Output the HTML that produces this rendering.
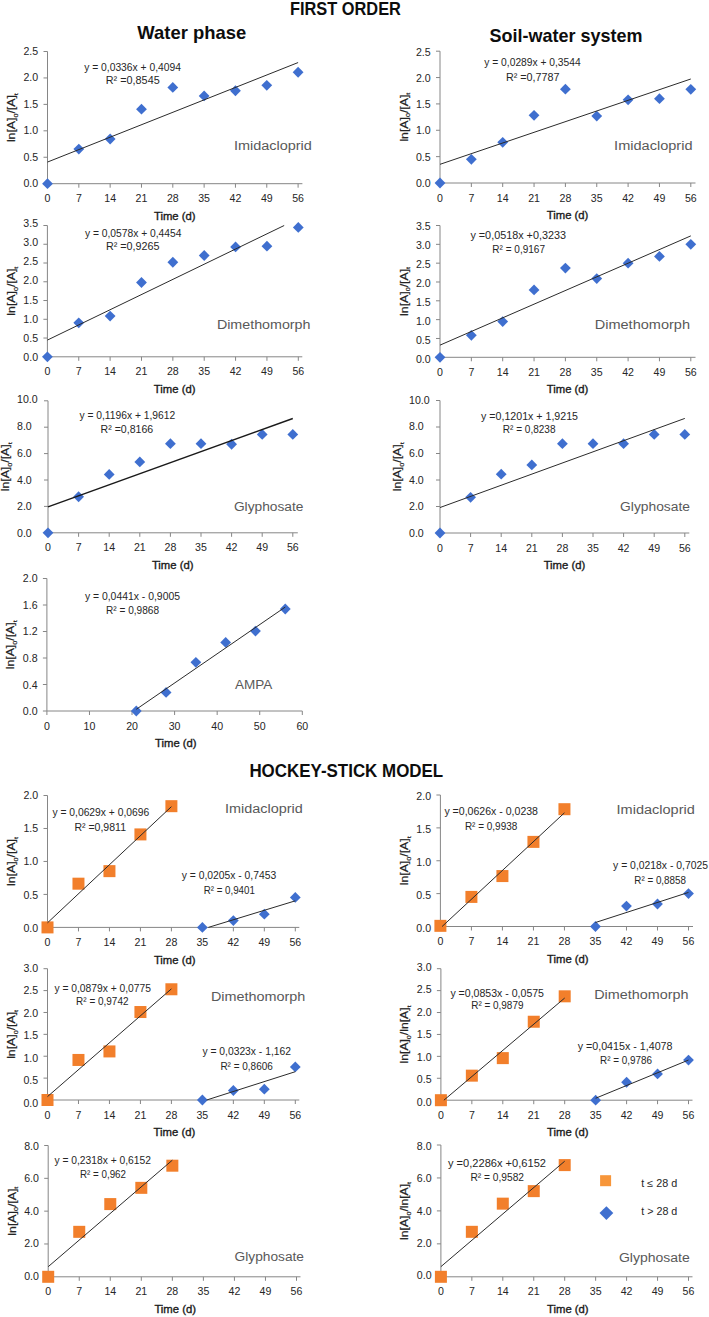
<!DOCTYPE html>
<html><head><meta charset="utf-8"><style>
html,body{margin:0;padding:0;background:#fff;}
svg{display:block;font-family:"Liberation Sans", sans-serif;}
</style></head><body>
<svg width="709" height="1317" viewBox="0 0 709 1317">
<rect width="709" height="1317" fill="#fff"/>
<path d="M47.50 51.50V183.70H302.40" fill="none" stroke="#868686" stroke-width="1"/>
<path d="M43.50 183.70H47.50 M43.50 157.26H47.50 M43.50 130.82H47.50 M43.50 104.38H47.50 M43.50 77.94H47.50 M43.50 51.50H47.50 M47.50 183.70V187.70 M78.83 183.70V187.70 M110.15 183.70V187.70 M141.48 183.70V187.70 M172.80 183.70V187.70 M204.13 183.70V187.70 M235.45 183.70V187.70 M266.78 183.70V187.70 M298.10 183.70V187.70" fill="none" stroke="#868686" stroke-width="1"/>
<text x="38.20" y="187.40" font-size="10.6" text-anchor="end" font-weight="normal" fill="#262626">0.0</text>
<text x="38.20" y="160.86" font-size="10.6" text-anchor="end" font-weight="normal" fill="#262626">0.5</text>
<text x="38.20" y="134.32" font-size="10.6" text-anchor="end" font-weight="normal" fill="#262626">1.0</text>
<text x="38.20" y="107.78" font-size="10.6" text-anchor="end" font-weight="normal" fill="#262626">1.5</text>
<text x="38.20" y="81.24" font-size="10.6" text-anchor="end" font-weight="normal" fill="#262626">2.0</text>
<text x="38.20" y="54.70" font-size="10.6" text-anchor="end" font-weight="normal" fill="#262626">2.5</text>
<text x="47.50" y="202.30" font-size="10.6" text-anchor="middle" font-weight="normal" fill="#262626">0</text>
<text x="78.83" y="202.30" font-size="10.6" text-anchor="middle" font-weight="normal" fill="#262626">7</text>
<text x="110.15" y="202.30" font-size="10.6" text-anchor="middle" font-weight="normal" fill="#262626">14</text>
<text x="141.48" y="202.30" font-size="10.6" text-anchor="middle" font-weight="normal" fill="#262626">21</text>
<text x="172.80" y="202.30" font-size="10.6" text-anchor="middle" font-weight="normal" fill="#262626">28</text>
<text x="204.13" y="202.30" font-size="10.6" text-anchor="middle" font-weight="normal" fill="#262626">35</text>
<text x="235.45" y="202.30" font-size="10.6" text-anchor="middle" font-weight="normal" fill="#262626">42</text>
<text x="266.78" y="202.30" font-size="10.6" text-anchor="middle" font-weight="normal" fill="#262626">49</text>
<text x="298.10" y="202.30" font-size="10.6" text-anchor="middle" font-weight="normal" fill="#262626">56</text>
<text x="153.95" y="219.80" font-size="11" text-anchor="start" font-weight="normal" fill="#1a1a1a" textLength="41.6" lengthAdjust="spacingAndGlyphs" stroke="#1a1a1a" stroke-width="0.35">Time (d)</text>
<text transform="translate(15.00 117.60) rotate(-90)" x="0" y="0" text-anchor="middle" font-size="10.5" fill="#222" stroke="#222" stroke-width="0.2" textLength="49" lengthAdjust="spacingAndGlyphs">ln[A]<tspan font-size="6.2" dy="2.6">0</tspan><tspan dy="-2.6">/[A]</tspan><tspan font-size="6.2" dy="2.6">t</tspan></text>
<text x="233.90" y="149.90" font-size="13.7" text-anchor="start" font-weight="normal" fill="#595959" textLength="78.0" lengthAdjust="spacingAndGlyphs">Imidacloprid</text>
<path d="M47.50 178.30L52.90 183.70L47.50 189.10L42.10 183.70Z" fill="#3F6FCF"/>
<path d="M78.83 143.72L84.23 149.12L78.83 154.52L73.42 149.12Z" fill="#3F6FCF"/>
<path d="M110.15 133.62L115.55 139.02L110.15 144.42L104.75 139.02Z" fill="#3F6FCF"/>
<path d="M141.48 103.74L146.88 109.14L141.48 114.54L136.08 109.14Z" fill="#3F6FCF"/>
<path d="M172.80 82.06L178.20 87.46L172.80 92.86L167.40 87.46Z" fill="#3F6FCF"/>
<path d="M204.13 90.52L209.53 95.92L204.13 101.32L198.73 95.92Z" fill="#3F6FCF"/>
<path d="M235.45 85.34L240.85 90.74L235.45 96.14L230.05 90.74Z" fill="#3F6FCF"/>
<path d="M266.78 79.94L272.18 85.34L266.78 90.74L261.38 85.34Z" fill="#3F6FCF"/>
<path d="M298.10 66.83L303.50 72.23L298.10 77.63L292.70 72.23Z" fill="#3F6FCF"/>
<line x1="47.50" y1="162.05" x2="298.10" y2="62.55" stroke="#2b2b2b" stroke-width="1.0"/>
<text x="84.20" y="70.60" font-size="10.3" text-anchor="start" font-weight="normal" fill="#262626" textLength="96.8" lengthAdjust="spacingAndGlyphs">y = 0,0336x + 0,4094</text>
<text x="105.80" y="84.30" font-size="10.3" text-anchor="start" font-weight="normal" fill="#262626" textLength="53.9" lengthAdjust="spacingAndGlyphs">R² =0,8545</text>
<path d="M47.40 225.50V356.80H302.30" fill="none" stroke="#868686" stroke-width="1"/>
<path d="M43.40 356.80H47.40 M43.40 338.04H47.40 M43.40 319.29H47.40 M43.40 300.53H47.40 M43.40 281.77H47.40 M43.40 263.01H47.40 M43.40 244.26H47.40 M43.40 225.50H47.40 M47.40 356.80V360.80 M78.76 356.80V360.80 M110.12 356.80V360.80 M141.49 356.80V360.80 M172.85 356.80V360.80 M204.21 356.80V360.80 M235.57 356.80V360.80 M266.94 356.80V360.80 M298.30 356.80V360.80" fill="none" stroke="#868686" stroke-width="1"/>
<text x="38.10" y="361.40" font-size="10.6" text-anchor="end" font-weight="normal" fill="#262626">0.0</text>
<text x="38.10" y="342.16" font-size="10.6" text-anchor="end" font-weight="normal" fill="#262626">0.5</text>
<text x="38.10" y="322.91" font-size="10.6" text-anchor="end" font-weight="normal" fill="#262626">1.0</text>
<text x="38.10" y="303.67" font-size="10.6" text-anchor="end" font-weight="normal" fill="#262626">1.5</text>
<text x="38.10" y="284.43" font-size="10.6" text-anchor="end" font-weight="normal" fill="#262626">2.0</text>
<text x="38.10" y="265.19" font-size="10.6" text-anchor="end" font-weight="normal" fill="#262626">2.5</text>
<text x="38.10" y="245.94" font-size="10.6" text-anchor="end" font-weight="normal" fill="#262626">3.0</text>
<text x="38.10" y="226.70" font-size="10.6" text-anchor="end" font-weight="normal" fill="#262626">3.5</text>
<text x="47.40" y="375.40" font-size="10.6" text-anchor="middle" font-weight="normal" fill="#262626">0</text>
<text x="78.76" y="375.40" font-size="10.6" text-anchor="middle" font-weight="normal" fill="#262626">7</text>
<text x="110.12" y="375.40" font-size="10.6" text-anchor="middle" font-weight="normal" fill="#262626">14</text>
<text x="141.49" y="375.40" font-size="10.6" text-anchor="middle" font-weight="normal" fill="#262626">21</text>
<text x="172.85" y="375.40" font-size="10.6" text-anchor="middle" font-weight="normal" fill="#262626">28</text>
<text x="204.21" y="375.40" font-size="10.6" text-anchor="middle" font-weight="normal" fill="#262626">35</text>
<text x="235.57" y="375.40" font-size="10.6" text-anchor="middle" font-weight="normal" fill="#262626">42</text>
<text x="266.94" y="375.40" font-size="10.6" text-anchor="middle" font-weight="normal" fill="#262626">49</text>
<text x="298.30" y="375.40" font-size="10.6" text-anchor="middle" font-weight="normal" fill="#262626">56</text>
<text x="153.85" y="392.90" font-size="11" text-anchor="start" font-weight="normal" fill="#1a1a1a" textLength="41.6" lengthAdjust="spacingAndGlyphs" stroke="#1a1a1a" stroke-width="0.35">Time (d)</text>
<text transform="translate(14.90 291.15) rotate(-90)" x="0" y="0" text-anchor="middle" font-size="10.5" fill="#222" stroke="#222" stroke-width="0.2" textLength="49" lengthAdjust="spacingAndGlyphs">ln[A]<tspan font-size="6.2" dy="2.6">0</tspan><tspan dy="-2.6">/[A]</tspan><tspan font-size="6.2" dy="2.6">t</tspan></text>
<text x="216.90" y="329.10" font-size="13.7" text-anchor="start" font-weight="normal" fill="#595959" textLength="93.6" lengthAdjust="spacingAndGlyphs">Dimethomorph</text>
<path d="M47.40 351.40L52.80 356.80L47.40 362.20L42.00 356.80Z" fill="#3F6FCF"/>
<path d="M78.76 317.41L84.16 322.81L78.76 328.21L73.36 322.81Z" fill="#3F6FCF"/>
<path d="M110.12 310.70L115.53 316.10L110.12 321.50L104.72 316.10Z" fill="#3F6FCF"/>
<path d="M141.49 277.12L146.89 282.52L141.49 287.92L136.09 282.52Z" fill="#3F6FCF"/>
<path d="M172.85 256.86L178.25 262.26L172.85 267.66L167.45 262.26Z" fill="#3F6FCF"/>
<path d="M204.21 250.11L209.61 255.51L204.21 260.91L198.81 255.51Z" fill="#3F6FCF"/>
<path d="M235.57 241.48L240.97 246.88L235.57 252.28L230.17 246.88Z" fill="#3F6FCF"/>
<path d="M266.94 240.73L272.34 246.13L266.94 251.53L261.54 246.13Z" fill="#3F6FCF"/>
<path d="M298.30 221.98L303.70 227.38L298.30 232.78L292.90 227.38Z" fill="#3F6FCF"/>
<line x1="47.40" y1="340.09" x2="284.18" y2="225.50" stroke="#2b2b2b" stroke-width="1.0"/>
<text x="84.90" y="236.70" font-size="10.3" text-anchor="start" font-weight="normal" fill="#262626" textLength="96.6" lengthAdjust="spacingAndGlyphs">y = 0,0578x + 0,4454</text>
<text x="106.00" y="250.40" font-size="10.3" text-anchor="start" font-weight="normal" fill="#262626" textLength="53.5" lengthAdjust="spacingAndGlyphs">R² =0,9265</text>
<path d="M48.00 400.80V532.80H297.80" fill="none" stroke="#868686" stroke-width="1"/>
<path d="M44.00 532.80H48.00 M44.00 506.40H48.00 M44.00 480.00H48.00 M44.00 453.60H48.00 M44.00 427.20H48.00 M44.00 400.80H48.00 M48.00 532.80V536.80 M78.60 532.80V536.80 M109.20 532.80V536.80 M139.80 532.80V536.80 M170.40 532.80V536.80 M201.00 532.80V536.80 M231.60 532.80V536.80 M262.20 532.80V536.80 M292.80 532.80V536.80" fill="none" stroke="#868686" stroke-width="1"/>
<text x="17.00" y="537.00" font-size="10.6" text-anchor="start" font-weight="normal" fill="#262626">0.0</text>
<text x="17.00" y="510.28" font-size="10.6" text-anchor="start" font-weight="normal" fill="#262626">2.0</text>
<text x="17.00" y="483.56" font-size="10.6" text-anchor="start" font-weight="normal" fill="#262626">4.0</text>
<text x="17.00" y="456.84" font-size="10.6" text-anchor="start" font-weight="normal" fill="#262626">6.0</text>
<text x="17.00" y="430.12" font-size="10.6" text-anchor="start" font-weight="normal" fill="#262626">8.0</text>
<text x="17.00" y="403.40" font-size="10.6" text-anchor="start" font-weight="normal" fill="#262626">10.0</text>
<text x="48.00" y="551.40" font-size="10.6" text-anchor="middle" font-weight="normal" fill="#262626">0</text>
<text x="78.60" y="551.40" font-size="10.6" text-anchor="middle" font-weight="normal" fill="#262626">7</text>
<text x="109.20" y="551.40" font-size="10.6" text-anchor="middle" font-weight="normal" fill="#262626">14</text>
<text x="139.80" y="551.40" font-size="10.6" text-anchor="middle" font-weight="normal" fill="#262626">21</text>
<text x="170.40" y="551.40" font-size="10.6" text-anchor="middle" font-weight="normal" fill="#262626">28</text>
<text x="201.00" y="551.40" font-size="10.6" text-anchor="middle" font-weight="normal" fill="#262626">35</text>
<text x="231.60" y="551.40" font-size="10.6" text-anchor="middle" font-weight="normal" fill="#262626">42</text>
<text x="262.20" y="551.40" font-size="10.6" text-anchor="middle" font-weight="normal" fill="#262626">49</text>
<text x="292.80" y="551.40" font-size="10.6" text-anchor="middle" font-weight="normal" fill="#262626">56</text>
<text x="151.90" y="568.90" font-size="11" text-anchor="start" font-weight="normal" fill="#1a1a1a" textLength="41.6" lengthAdjust="spacingAndGlyphs" stroke="#1a1a1a" stroke-width="0.35">Time (d)</text>
<text transform="translate(9.40 466.80) rotate(-90)" x="0" y="0" text-anchor="middle" font-size="10.5" fill="#222" stroke="#222" stroke-width="0.2" textLength="49" lengthAdjust="spacingAndGlyphs">ln[A]<tspan font-size="6.2" dy="2.6">0</tspan><tspan dy="-2.6">/[A]</tspan><tspan font-size="6.2" dy="2.6">t</tspan></text>
<text x="233.90" y="511.10" font-size="13.7" text-anchor="start" font-weight="normal" fill="#595959" textLength="69.6" lengthAdjust="spacingAndGlyphs">Glyphosate</text>
<path d="M48.00 527.40L53.40 532.80L48.00 538.20L42.60 532.80Z" fill="#3F6FCF"/>
<path d="M78.60 491.36L84.00 496.76L78.60 502.16L73.20 496.76Z" fill="#3F6FCF"/>
<path d="M109.20 469.06L114.60 474.46L109.20 479.86L103.80 474.46Z" fill="#3F6FCF"/>
<path d="M139.80 456.52L145.20 461.92L139.80 467.32L134.40 461.92Z" fill="#3F6FCF"/>
<path d="M170.40 438.30L175.80 443.70L170.40 449.10L165.00 443.70Z" fill="#3F6FCF"/>
<path d="M201.00 438.30L206.40 443.70L201.00 449.10L195.60 443.70Z" fill="#3F6FCF"/>
<path d="M231.60 438.83L237.00 444.23L231.60 449.63L226.20 444.23Z" fill="#3F6FCF"/>
<path d="M262.20 429.06L267.60 434.46L262.20 439.86L256.80 434.46Z" fill="#3F6FCF"/>
<path d="M292.80 429.06L298.20 434.46L292.80 439.86L287.40 434.46Z" fill="#3F6FCF"/>
<line x1="48.00" y1="506.91" x2="292.80" y2="418.50" stroke="#1a1a1a" stroke-width="1.5"/>
<text x="79.40" y="419.40" font-size="10.3" text-anchor="start" font-weight="normal" fill="#262626" textLength="95.8" lengthAdjust="spacingAndGlyphs">y = 0,1196x + 1,9612</text>
<text x="100.60" y="432.90" font-size="10.3" text-anchor="start" font-weight="normal" fill="#262626" textLength="52.6" lengthAdjust="spacingAndGlyphs">R² =0,8166</text>
<path d="M46.90 578.50V711.00H302.30" fill="none" stroke="#868686" stroke-width="1"/>
<path d="M42.90 711.00H46.90 M42.90 684.50H46.90 M42.90 658.00H46.90 M42.90 631.50H46.90 M42.90 605.00H46.90 M42.90 578.50H46.90 M46.90 711.00V715.00 M89.47 711.00V715.00 M132.03 711.00V715.00 M174.60 711.00V715.00 M217.17 711.00V715.00 M259.73 711.00V715.00 M302.30 711.00V715.00" fill="none" stroke="#868686" stroke-width="1"/>
<text x="37.60" y="715.30" font-size="10.6" text-anchor="end" font-weight="normal" fill="#262626">0.0</text>
<text x="37.60" y="688.66" font-size="10.6" text-anchor="end" font-weight="normal" fill="#262626">0.4</text>
<text x="37.60" y="662.02" font-size="10.6" text-anchor="end" font-weight="normal" fill="#262626">0.8</text>
<text x="37.60" y="635.38" font-size="10.6" text-anchor="end" font-weight="normal" fill="#262626">1.2</text>
<text x="37.60" y="608.74" font-size="10.6" text-anchor="end" font-weight="normal" fill="#262626">1.6</text>
<text x="37.60" y="582.10" font-size="10.6" text-anchor="end" font-weight="normal" fill="#262626">2.0</text>
<text x="46.90" y="729.60" font-size="10.6" text-anchor="middle" font-weight="normal" fill="#262626">0</text>
<text x="89.47" y="729.60" font-size="10.6" text-anchor="middle" font-weight="normal" fill="#262626">10</text>
<text x="132.03" y="729.60" font-size="10.6" text-anchor="middle" font-weight="normal" fill="#262626">20</text>
<text x="174.60" y="729.60" font-size="10.6" text-anchor="middle" font-weight="normal" fill="#262626">30</text>
<text x="217.17" y="729.60" font-size="10.6" text-anchor="middle" font-weight="normal" fill="#262626">40</text>
<text x="259.73" y="729.60" font-size="10.6" text-anchor="middle" font-weight="normal" fill="#262626">50</text>
<text x="302.30" y="729.60" font-size="10.6" text-anchor="middle" font-weight="normal" fill="#262626">60</text>
<text x="155.00" y="747.10" font-size="11" text-anchor="start" font-weight="normal" fill="#1a1a1a" textLength="41.6" lengthAdjust="spacingAndGlyphs" stroke="#1a1a1a" stroke-width="0.35">Time (d)</text>
<text transform="translate(14.40 644.75) rotate(-90)" x="0" y="0" text-anchor="middle" font-size="10.5" fill="#222" stroke="#222" stroke-width="0.2" textLength="49" lengthAdjust="spacingAndGlyphs">ln[A]<tspan font-size="6.2" dy="2.6">0</tspan><tspan dy="-2.6">/[A]</tspan><tspan font-size="6.2" dy="2.6">t</tspan></text>
<text x="235.00" y="688.60" font-size="13.7" text-anchor="start" font-weight="normal" fill="#595959" textLength="37.3" lengthAdjust="spacingAndGlyphs">AMPA</text>
<path d="M136.29 705.60L141.69 711.00L136.29 716.40L130.89 711.00Z" fill="#3F6FCF"/>
<path d="M166.09 687.05L171.49 692.45L166.09 697.85L160.69 692.45Z" fill="#3F6FCF"/>
<path d="M195.88 656.91L201.28 662.31L195.88 667.71L190.48 662.31Z" fill="#3F6FCF"/>
<path d="M225.68 637.03L231.08 642.43L225.68 647.83L220.28 642.43Z" fill="#3F6FCF"/>
<path d="M255.48 625.70L260.88 631.10L255.48 636.50L250.08 631.10Z" fill="#3F6FCF"/>
<path d="M285.27 603.58L290.67 608.98L285.27 614.38L279.87 608.98Z" fill="#3F6FCF"/>
<line x1="136.29" y1="709.30" x2="285.27" y2="607.05" stroke="#2b2b2b" stroke-width="1.0"/>
<text x="84.90" y="599.90" font-size="10.3" text-anchor="start" font-weight="normal" fill="#262626" textLength="95.1" lengthAdjust="spacingAndGlyphs">y = 0,0441x - 0,9005</text>
<text x="106.00" y="613.70" font-size="10.3" text-anchor="start" font-weight="normal" fill="#262626" textLength="53.0" lengthAdjust="spacingAndGlyphs">R² = 0,9868</text>
<path d="M440.00 51.20V183.00H695.50" fill="none" stroke="#868686" stroke-width="1"/>
<path d="M436.00 183.00H440.00 M436.00 156.64H440.00 M436.00 130.28H440.00 M436.00 103.92H440.00 M436.00 77.56H440.00 M436.00 51.20H440.00 M440.00 183.00V187.00 M471.35 183.00V187.00 M502.70 183.00V187.00 M534.05 183.00V187.00 M565.40 183.00V187.00 M596.75 183.00V187.00 M628.10 183.00V187.00 M659.45 183.00V187.00 M690.80 183.00V187.00" fill="none" stroke="#868686" stroke-width="1"/>
<text x="430.70" y="187.10" font-size="10.6" text-anchor="end" font-weight="normal" fill="#262626">0.0</text>
<text x="430.70" y="160.78" font-size="10.6" text-anchor="end" font-weight="normal" fill="#262626">0.5</text>
<text x="430.70" y="134.46" font-size="10.6" text-anchor="end" font-weight="normal" fill="#262626">1.0</text>
<text x="430.70" y="108.14" font-size="10.6" text-anchor="end" font-weight="normal" fill="#262626">1.5</text>
<text x="430.70" y="81.82" font-size="10.6" text-anchor="end" font-weight="normal" fill="#262626">2.0</text>
<text x="430.70" y="55.50" font-size="10.6" text-anchor="end" font-weight="normal" fill="#262626">2.5</text>
<text x="440.00" y="201.60" font-size="10.6" text-anchor="middle" font-weight="normal" fill="#262626">0</text>
<text x="471.35" y="201.60" font-size="10.6" text-anchor="middle" font-weight="normal" fill="#262626">7</text>
<text x="502.70" y="201.60" font-size="10.6" text-anchor="middle" font-weight="normal" fill="#262626">14</text>
<text x="534.05" y="201.60" font-size="10.6" text-anchor="middle" font-weight="normal" fill="#262626">21</text>
<text x="565.40" y="201.60" font-size="10.6" text-anchor="middle" font-weight="normal" fill="#262626">28</text>
<text x="596.75" y="201.60" font-size="10.6" text-anchor="middle" font-weight="normal" fill="#262626">35</text>
<text x="628.10" y="201.60" font-size="10.6" text-anchor="middle" font-weight="normal" fill="#262626">42</text>
<text x="659.45" y="201.60" font-size="10.6" text-anchor="middle" font-weight="normal" fill="#262626">49</text>
<text x="690.80" y="201.60" font-size="10.6" text-anchor="middle" font-weight="normal" fill="#262626">56</text>
<text x="546.75" y="219.10" font-size="11" text-anchor="start" font-weight="normal" fill="#1a1a1a" textLength="41.6" lengthAdjust="spacingAndGlyphs" stroke="#1a1a1a" stroke-width="0.35">Time (d)</text>
<text transform="translate(407.50 117.10) rotate(-90)" x="0" y="0" text-anchor="middle" font-size="10.5" fill="#222" stroke="#222" stroke-width="0.2" textLength="49" lengthAdjust="spacingAndGlyphs">ln[A]<tspan font-size="6.2" dy="2.6">0</tspan><tspan dy="-2.6">/[A]</tspan><tspan font-size="6.2" dy="2.6">t</tspan></text>
<text x="614.10" y="149.90" font-size="13.7" text-anchor="start" font-weight="normal" fill="#595959" textLength="78.4" lengthAdjust="spacingAndGlyphs">Imidacloprid</text>
<path d="M440.00 177.60L445.40 183.00L440.00 188.40L434.60 183.00Z" fill="#3F6FCF"/>
<path d="M471.35 153.88L476.75 159.28L471.35 164.68L465.95 159.28Z" fill="#3F6FCF"/>
<path d="M502.70 136.90L508.10 142.30L502.70 147.70L497.30 142.30Z" fill="#3F6FCF"/>
<path d="M534.05 109.96L539.45 115.36L534.05 120.76L528.65 115.36Z" fill="#3F6FCF"/>
<path d="M565.40 83.76L570.80 89.16L565.40 94.56L560.00 89.16Z" fill="#3F6FCF"/>
<path d="M596.75 110.65L602.15 116.05L596.75 121.45L591.35 116.05Z" fill="#3F6FCF"/>
<path d="M628.10 94.46L633.50 99.86L628.10 105.26L622.70 99.86Z" fill="#3F6FCF"/>
<path d="M659.45 93.25L664.85 98.65L659.45 104.05L654.05 98.65Z" fill="#3F6FCF"/>
<path d="M690.80 83.97L696.20 89.37L690.80 94.77L685.40 89.37Z" fill="#3F6FCF"/>
<line x1="440.00" y1="164.32" x2="690.80" y2="78.99" stroke="#2b2b2b" stroke-width="1.0"/>
<text x="484.30" y="66.20" font-size="10.3" text-anchor="start" font-weight="normal" fill="#262626" textLength="96.4" lengthAdjust="spacingAndGlyphs">y = 0,0289x + 0,3544</text>
<text x="506.00" y="81.10" font-size="10.3" text-anchor="start" font-weight="normal" fill="#262626" textLength="53.5" lengthAdjust="spacingAndGlyphs">R² =0,7787</text>
<path d="M440.00 225.50V357.30H695.50" fill="none" stroke="#868686" stroke-width="1"/>
<path d="M436.00 357.30H440.00 M436.00 338.47H440.00 M436.00 319.64H440.00 M436.00 300.81H440.00 M436.00 281.99H440.00 M436.00 263.16H440.00 M436.00 244.33H440.00 M436.00 225.50H440.00 M440.00 357.30V361.30 M471.35 357.30V361.30 M502.70 357.30V361.30 M534.05 357.30V361.30 M565.40 357.30V361.30 M596.75 357.30V361.30 M628.10 357.30V361.30 M659.45 357.30V361.30 M690.80 357.30V361.30" fill="none" stroke="#868686" stroke-width="1"/>
<text x="430.70" y="363.30" font-size="10.6" text-anchor="end" font-weight="normal" fill="#262626">0.0</text>
<text x="430.70" y="344.21" font-size="10.6" text-anchor="end" font-weight="normal" fill="#262626">0.5</text>
<text x="430.70" y="325.13" font-size="10.6" text-anchor="end" font-weight="normal" fill="#262626">1.0</text>
<text x="430.70" y="306.04" font-size="10.6" text-anchor="end" font-weight="normal" fill="#262626">1.5</text>
<text x="430.70" y="286.96" font-size="10.6" text-anchor="end" font-weight="normal" fill="#262626">2.0</text>
<text x="430.70" y="267.87" font-size="10.6" text-anchor="end" font-weight="normal" fill="#262626">2.5</text>
<text x="430.70" y="248.79" font-size="10.6" text-anchor="end" font-weight="normal" fill="#262626">3.0</text>
<text x="430.70" y="229.70" font-size="10.6" text-anchor="end" font-weight="normal" fill="#262626">3.5</text>
<text x="440.00" y="375.90" font-size="10.6" text-anchor="middle" font-weight="normal" fill="#262626">0</text>
<text x="471.35" y="375.90" font-size="10.6" text-anchor="middle" font-weight="normal" fill="#262626">7</text>
<text x="502.70" y="375.90" font-size="10.6" text-anchor="middle" font-weight="normal" fill="#262626">14</text>
<text x="534.05" y="375.90" font-size="10.6" text-anchor="middle" font-weight="normal" fill="#262626">21</text>
<text x="565.40" y="375.90" font-size="10.6" text-anchor="middle" font-weight="normal" fill="#262626">28</text>
<text x="596.75" y="375.90" font-size="10.6" text-anchor="middle" font-weight="normal" fill="#262626">35</text>
<text x="628.10" y="375.90" font-size="10.6" text-anchor="middle" font-weight="normal" fill="#262626">42</text>
<text x="659.45" y="375.90" font-size="10.6" text-anchor="middle" font-weight="normal" fill="#262626">49</text>
<text x="690.80" y="375.90" font-size="10.6" text-anchor="middle" font-weight="normal" fill="#262626">56</text>
<text x="546.75" y="393.40" font-size="11" text-anchor="start" font-weight="normal" fill="#1a1a1a" textLength="41.6" lengthAdjust="spacingAndGlyphs" stroke="#1a1a1a" stroke-width="0.35">Time (d)</text>
<text transform="translate(407.50 291.40) rotate(-90)" x="0" y="0" text-anchor="middle" font-size="10.5" fill="#222" stroke="#222" stroke-width="0.2" textLength="49" lengthAdjust="spacingAndGlyphs">ln[A]<tspan font-size="6.2" dy="2.6">0</tspan><tspan dy="-2.6">/[A]</tspan><tspan font-size="6.2" dy="2.6">t</tspan></text>
<text x="594.70" y="328.60" font-size="13.7" text-anchor="start" font-weight="normal" fill="#595959" textLength="95.3" lengthAdjust="spacingAndGlyphs">Dimethomorph</text>
<path d="M440.00 351.90L445.40 357.30L440.00 362.70L434.60 357.30Z" fill="#3F6FCF"/>
<path d="M471.35 329.91L476.75 335.31L471.35 340.71L465.95 335.31Z" fill="#3F6FCF"/>
<path d="M502.70 316.20L508.10 321.60L502.70 327.00L497.30 321.60Z" fill="#3F6FCF"/>
<path d="M534.05 284.49L539.45 289.89L534.05 295.29L528.65 289.89Z" fill="#3F6FCF"/>
<path d="M565.40 262.65L570.80 268.05L565.40 273.45L560.00 268.05Z" fill="#3F6FCF"/>
<path d="M596.75 273.20L602.15 278.60L596.75 284.00L591.35 278.60Z" fill="#3F6FCF"/>
<path d="M628.10 257.76L633.50 263.16L628.10 268.56L622.70 263.16Z" fill="#3F6FCF"/>
<path d="M659.45 250.98L664.85 256.38L659.45 261.78L654.05 256.38Z" fill="#3F6FCF"/>
<path d="M690.80 238.93L696.20 244.33L690.80 249.73L685.40 244.33Z" fill="#3F6FCF"/>
<line x1="440.00" y1="345.13" x2="690.80" y2="235.89" stroke="#2b2b2b" stroke-width="1.0"/>
<text x="470.40" y="239.20" font-size="10.3" text-anchor="start" font-weight="normal" fill="#262626" textLength="95.6" lengthAdjust="spacingAndGlyphs">y =0,0518x +0,3233</text>
<text x="492.30" y="253.10" font-size="10.3" text-anchor="start" font-weight="normal" fill="#262626" textLength="52.7" lengthAdjust="spacingAndGlyphs">R² = 0,9167</text>
<path d="M440.00 400.50V533.00H689.30" fill="none" stroke="#868686" stroke-width="1"/>
<path d="M436.00 533.00H440.00 M436.00 506.50H440.00 M436.00 480.00H440.00 M436.00 453.50H440.00 M436.00 427.00H440.00 M436.00 400.50H440.00 M440.00 533.00V537.00 M470.60 533.00V537.00 M501.20 533.00V537.00 M531.80 533.00V537.00 M562.40 533.00V537.00 M593.00 533.00V537.00 M623.60 533.00V537.00 M654.20 533.00V537.00 M684.80 533.00V537.00" fill="none" stroke="#868686" stroke-width="1"/>
<text x="409.00" y="536.80" font-size="10.6" text-anchor="start" font-weight="normal" fill="#262626">0.0</text>
<text x="409.00" y="510.20" font-size="10.6" text-anchor="start" font-weight="normal" fill="#262626">2.0</text>
<text x="409.00" y="483.60" font-size="10.6" text-anchor="start" font-weight="normal" fill="#262626">4.0</text>
<text x="409.00" y="457.00" font-size="10.6" text-anchor="start" font-weight="normal" fill="#262626">6.0</text>
<text x="409.00" y="430.40" font-size="10.6" text-anchor="start" font-weight="normal" fill="#262626">8.0</text>
<text x="409.00" y="403.80" font-size="10.6" text-anchor="start" font-weight="normal" fill="#262626">10.0</text>
<text x="440.00" y="551.60" font-size="10.6" text-anchor="middle" font-weight="normal" fill="#262626">0</text>
<text x="470.60" y="551.60" font-size="10.6" text-anchor="middle" font-weight="normal" fill="#262626">7</text>
<text x="501.20" y="551.60" font-size="10.6" text-anchor="middle" font-weight="normal" fill="#262626">14</text>
<text x="531.80" y="551.60" font-size="10.6" text-anchor="middle" font-weight="normal" fill="#262626">21</text>
<text x="562.40" y="551.60" font-size="10.6" text-anchor="middle" font-weight="normal" fill="#262626">28</text>
<text x="593.00" y="551.60" font-size="10.6" text-anchor="middle" font-weight="normal" fill="#262626">35</text>
<text x="623.60" y="551.60" font-size="10.6" text-anchor="middle" font-weight="normal" fill="#262626">42</text>
<text x="654.20" y="551.60" font-size="10.6" text-anchor="middle" font-weight="normal" fill="#262626">49</text>
<text x="684.80" y="551.60" font-size="10.6" text-anchor="middle" font-weight="normal" fill="#262626">56</text>
<text x="543.65" y="569.10" font-size="11" text-anchor="start" font-weight="normal" fill="#1a1a1a" textLength="41.6" lengthAdjust="spacingAndGlyphs" stroke="#1a1a1a" stroke-width="0.35">Time (d)</text>
<text transform="translate(401.40 466.75) rotate(-90)" x="0" y="0" text-anchor="middle" font-size="10.5" fill="#222" stroke="#222" stroke-width="0.2" textLength="49" lengthAdjust="spacingAndGlyphs">ln[A]<tspan font-size="6.2" dy="2.6">0</tspan><tspan dy="-2.6">/[A]</tspan><tspan font-size="6.2" dy="2.6">t</tspan></text>
<text x="620.10" y="511.10" font-size="13.7" text-anchor="start" font-weight="normal" fill="#595959" textLength="69.9" lengthAdjust="spacingAndGlyphs">Glyphosate</text>
<path d="M440.00 527.60L445.40 533.00L440.00 538.40L434.60 533.00Z" fill="#3F6FCF"/>
<path d="M470.60 491.96L476.00 497.36L470.60 502.76L465.20 497.36Z" fill="#3F6FCF"/>
<path d="M501.20 468.77L506.60 474.17L501.20 479.57L495.80 474.17Z" fill="#3F6FCF"/>
<path d="M531.80 459.50L537.20 464.89L531.80 470.29L526.40 464.89Z" fill="#3F6FCF"/>
<path d="M562.40 438.30L567.80 443.69L562.40 449.09L557.00 443.69Z" fill="#3F6FCF"/>
<path d="M593.00 438.30L598.40 443.69L593.00 449.09L587.60 443.69Z" fill="#3F6FCF"/>
<path d="M623.60 438.30L629.00 443.69L623.60 449.09L618.20 443.69Z" fill="#3F6FCF"/>
<path d="M654.20 429.02L659.60 434.42L654.20 439.82L648.80 434.42Z" fill="#3F6FCF"/>
<path d="M684.80 429.02L690.20 434.42L684.80 439.82L679.40 434.42Z" fill="#3F6FCF"/>
<line x1="440.00" y1="507.54" x2="684.80" y2="418.43" stroke="#2b2b2b" stroke-width="1.0"/>
<text x="481.10" y="419.90" font-size="10.3" text-anchor="start" font-weight="normal" fill="#262626" textLength="96.9" lengthAdjust="spacingAndGlyphs">y =0,1201x + 1,9215</text>
<text x="502.80" y="433.20" font-size="10.3" text-anchor="start" font-weight="normal" fill="#262626" textLength="52.7" lengthAdjust="spacingAndGlyphs">R² = 0,8238</text>
<path d="M47.50 795.50V927.40H299.30" fill="none" stroke="#868686" stroke-width="1"/>
<path d="M43.50 927.40H47.50 M43.50 894.42H47.50 M43.50 861.45H47.50 M43.50 828.48H47.50 M43.50 795.50H47.50 M47.50 927.40V931.40 M78.47 927.40V931.40 M109.45 927.40V931.40 M140.43 927.40V931.40 M171.40 927.40V931.40 M202.38 927.40V931.40 M233.35 927.40V931.40 M264.32 927.40V931.40 M295.30 927.40V931.40" fill="none" stroke="#868686" stroke-width="1"/>
<text x="38.20" y="932.00" font-size="10.6" text-anchor="end" font-weight="normal" fill="#262626">0.0</text>
<text x="38.20" y="898.70" font-size="10.6" text-anchor="end" font-weight="normal" fill="#262626">0.5</text>
<text x="38.20" y="865.40" font-size="10.6" text-anchor="end" font-weight="normal" fill="#262626">1.0</text>
<text x="38.20" y="832.10" font-size="10.6" text-anchor="end" font-weight="normal" fill="#262626">1.5</text>
<text x="38.20" y="798.80" font-size="10.6" text-anchor="end" font-weight="normal" fill="#262626">2.0</text>
<text x="47.50" y="946.00" font-size="10.6" text-anchor="middle" font-weight="normal" fill="#262626">0</text>
<text x="78.47" y="946.00" font-size="10.6" text-anchor="middle" font-weight="normal" fill="#262626">7</text>
<text x="109.45" y="946.00" font-size="10.6" text-anchor="middle" font-weight="normal" fill="#262626">14</text>
<text x="140.43" y="946.00" font-size="10.6" text-anchor="middle" font-weight="normal" fill="#262626">21</text>
<text x="171.40" y="946.00" font-size="10.6" text-anchor="middle" font-weight="normal" fill="#262626">28</text>
<text x="202.38" y="946.00" font-size="10.6" text-anchor="middle" font-weight="normal" fill="#262626">35</text>
<text x="233.35" y="946.00" font-size="10.6" text-anchor="middle" font-weight="normal" fill="#262626">42</text>
<text x="264.32" y="946.00" font-size="10.6" text-anchor="middle" font-weight="normal" fill="#262626">49</text>
<text x="295.30" y="946.00" font-size="10.6" text-anchor="middle" font-weight="normal" fill="#262626">56</text>
<text x="153.90" y="963.50" font-size="11" text-anchor="start" font-weight="normal" fill="#1a1a1a" textLength="41.6" lengthAdjust="spacingAndGlyphs" stroke="#1a1a1a" stroke-width="0.35">Time (d)</text>
<text transform="translate(15.00 861.45) rotate(-90)" x="0" y="0" text-anchor="middle" font-size="10.5" fill="#222" stroke="#222" stroke-width="0.2" textLength="49" lengthAdjust="spacingAndGlyphs">ln[A]<tspan font-size="6.2" dy="2.6">0</tspan><tspan dy="-2.6">/[A]</tspan><tspan font-size="6.2" dy="2.6">t</tspan></text>
<text x="225.10" y="813.00" font-size="13.7" text-anchor="start" font-weight="normal" fill="#595959" textLength="77.7" lengthAdjust="spacingAndGlyphs">Imidacloprid</text>
<path d="M202.38 922.00L207.78 927.40L202.38 932.80L196.97 927.40Z" fill="#3F6FCF"/>
<path d="M233.35 915.21L238.75 920.61L233.35 926.01L227.95 920.61Z" fill="#3F6FCF"/>
<path d="M264.32 908.81L269.72 914.21L264.32 919.61L258.93 914.21Z" fill="#3F6FCF"/>
<path d="M295.30 891.99L300.70 897.39L295.30 902.79L289.90 897.39Z" fill="#3F6FCF"/>
<rect x="41.50" y="921.40" width="12.00" height="12.00" fill="#F27F2B"/>
<rect x="72.47" y="877.68" width="12.00" height="12.00" fill="#F27F2B"/>
<rect x="103.45" y="865.14" width="12.00" height="12.00" fill="#F27F2B"/>
<rect x="134.43" y="828.41" width="12.00" height="12.00" fill="#F27F2B"/>
<rect x="165.40" y="800.18" width="12.00" height="12.00" fill="#F27F2B"/>
<line x1="47.50" y1="922.81" x2="171.40" y2="806.66" stroke="#2b2b2b" stroke-width="1.0"/>
<line x1="208.38" y1="927.40" x2="295.30" y2="900.84" stroke="#2b2b2b" stroke-width="1.0"/>
<text x="52.40" y="816.20" font-size="10.3" text-anchor="start" font-weight="normal" fill="#262626" textLength="96.9" lengthAdjust="spacingAndGlyphs">y = 0,0629x + 0,0696</text>
<text x="74.40" y="830.70" font-size="10.3" text-anchor="start" font-weight="normal" fill="#262626" textLength="51.6" lengthAdjust="spacingAndGlyphs">R² =0,9811</text>
<text x="181.70" y="879.40" font-size="10.3" text-anchor="start" font-weight="normal" fill="#262626" textLength="94.5" lengthAdjust="spacingAndGlyphs">y = 0,0205x - 0,7453</text>
<text x="203.70" y="893.70" font-size="10.3" text-anchor="start" font-weight="normal" fill="#262626" textLength="51.2" lengthAdjust="spacingAndGlyphs">R² = 0,9401</text>
<path d="M47.50 968.70V1100.00H299.30" fill="none" stroke="#868686" stroke-width="1"/>
<path d="M43.50 1100.00H47.50 M43.50 1078.12H47.50 M43.50 1056.23H47.50 M43.50 1034.35H47.50 M43.50 1012.47H47.50 M43.50 990.58H47.50 M43.50 968.70H47.50 M47.50 1100.00V1104.00 M78.47 1100.00V1104.00 M109.45 1100.00V1104.00 M140.43 1100.00V1104.00 M171.40 1100.00V1104.00 M202.38 1100.00V1104.00 M233.35 1100.00V1104.00 M264.32 1100.00V1104.00 M295.30 1100.00V1104.00" fill="none" stroke="#868686" stroke-width="1"/>
<text x="38.20" y="1106.50" font-size="10.6" text-anchor="end" font-weight="normal" fill="#262626">0.0</text>
<text x="38.20" y="1084.00" font-size="10.6" text-anchor="end" font-weight="normal" fill="#262626">0.5</text>
<text x="38.20" y="1061.50" font-size="10.6" text-anchor="end" font-weight="normal" fill="#262626">1.0</text>
<text x="38.20" y="1039.00" font-size="10.6" text-anchor="end" font-weight="normal" fill="#262626">1.5</text>
<text x="38.20" y="1016.50" font-size="10.6" text-anchor="end" font-weight="normal" fill="#262626">2.0</text>
<text x="38.20" y="994.00" font-size="10.6" text-anchor="end" font-weight="normal" fill="#262626">2.5</text>
<text x="38.20" y="971.50" font-size="10.6" text-anchor="end" font-weight="normal" fill="#262626">3.0</text>
<text x="47.50" y="1118.60" font-size="10.6" text-anchor="middle" font-weight="normal" fill="#262626">0</text>
<text x="78.47" y="1118.60" font-size="10.6" text-anchor="middle" font-weight="normal" fill="#262626">7</text>
<text x="109.45" y="1118.60" font-size="10.6" text-anchor="middle" font-weight="normal" fill="#262626">14</text>
<text x="140.43" y="1118.60" font-size="10.6" text-anchor="middle" font-weight="normal" fill="#262626">21</text>
<text x="171.40" y="1118.60" font-size="10.6" text-anchor="middle" font-weight="normal" fill="#262626">28</text>
<text x="202.38" y="1118.60" font-size="10.6" text-anchor="middle" font-weight="normal" fill="#262626">35</text>
<text x="233.35" y="1118.60" font-size="10.6" text-anchor="middle" font-weight="normal" fill="#262626">42</text>
<text x="264.32" y="1118.60" font-size="10.6" text-anchor="middle" font-weight="normal" fill="#262626">49</text>
<text x="295.30" y="1118.60" font-size="10.6" text-anchor="middle" font-weight="normal" fill="#262626">56</text>
<text x="153.60" y="1136.10" font-size="11" text-anchor="start" font-weight="normal" fill="#1a1a1a" textLength="41.6" lengthAdjust="spacingAndGlyphs" stroke="#1a1a1a" stroke-width="0.35">Time (d)</text>
<text transform="translate(15.00 1034.35) rotate(-90)" x="0" y="0" text-anchor="middle" font-size="10.5" fill="#222" stroke="#222" stroke-width="0.2" textLength="49" lengthAdjust="spacingAndGlyphs">ln[A]<tspan font-size="6.2" dy="2.6">0</tspan><tspan dy="-2.6">/[A]</tspan><tspan font-size="6.2" dy="2.6">t</tspan></text>
<text x="210.90" y="1000.50" font-size="13.7" text-anchor="start" font-weight="normal" fill="#595959" textLength="94.4" lengthAdjust="spacingAndGlyphs">Dimethomorph</text>
<path d="M202.38 1094.60L207.78 1100.00L202.38 1105.40L196.97 1100.00Z" fill="#3F6FCF"/>
<path d="M233.35 1085.10L238.75 1090.50L233.35 1095.90L227.95 1090.50Z" fill="#3F6FCF"/>
<path d="M264.32 1083.79L269.72 1089.19L264.32 1094.59L258.93 1089.19Z" fill="#3F6FCF"/>
<path d="M295.30 1061.56L300.70 1066.96L295.30 1072.36L289.90 1066.96Z" fill="#3F6FCF"/>
<rect x="41.50" y="1094.00" width="12.00" height="12.00" fill="#F27F2B"/>
<rect x="72.47" y="1053.95" width="12.00" height="12.00" fill="#F27F2B"/>
<rect x="103.45" y="1045.42" width="12.00" height="12.00" fill="#F27F2B"/>
<rect x="134.43" y="1006.03" width="12.00" height="12.00" fill="#F27F2B"/>
<rect x="165.40" y="983.27" width="12.00" height="12.00" fill="#F27F2B"/>
<line x1="47.50" y1="1096.61" x2="171.40" y2="988.89" stroke="#2b2b2b" stroke-width="1.0"/>
<line x1="206.69" y1="1100.00" x2="295.30" y2="1071.69" stroke="#2b2b2b" stroke-width="1.0"/>
<text x="54.40" y="991.70" font-size="10.3" text-anchor="start" font-weight="normal" fill="#262626" textLength="96.6" lengthAdjust="spacingAndGlyphs">y = 0,0879x + 0,0775</text>
<text x="76.10" y="1004.90" font-size="10.3" text-anchor="start" font-weight="normal" fill="#262626" textLength="52.4" lengthAdjust="spacingAndGlyphs">R² = 0,9742</text>
<text x="202.40" y="1054.90" font-size="10.3" text-anchor="start" font-weight="normal" fill="#262626" textLength="88.6" lengthAdjust="spacingAndGlyphs">y = 0,0323x - 1,162</text>
<text x="220.40" y="1069.70" font-size="10.3" text-anchor="start" font-weight="normal" fill="#262626" textLength="52.4" lengthAdjust="spacingAndGlyphs">R² = 0,8606</text>
<path d="M48.20 1145.50V1276.80H300.50" fill="none" stroke="#868686" stroke-width="1"/>
<path d="M44.20 1276.80H48.20 M44.20 1243.97H48.20 M44.20 1211.15H48.20 M44.20 1178.33H48.20 M44.20 1145.50H48.20 M48.20 1276.80V1280.80 M79.24 1276.80V1280.80 M110.28 1276.80V1280.80 M141.31 1276.80V1280.80 M172.35 1276.80V1280.80 M203.39 1276.80V1280.80 M234.43 1276.80V1280.80 M265.46 1276.80V1280.80 M296.50 1276.80V1280.80" fill="none" stroke="#868686" stroke-width="1"/>
<text x="38.90" y="1279.70" font-size="10.6" text-anchor="end" font-weight="normal" fill="#262626">0.0</text>
<text x="38.90" y="1247.25" font-size="10.6" text-anchor="end" font-weight="normal" fill="#262626">2.0</text>
<text x="38.90" y="1214.80" font-size="10.6" text-anchor="end" font-weight="normal" fill="#262626">4.0</text>
<text x="38.90" y="1182.35" font-size="10.6" text-anchor="end" font-weight="normal" fill="#262626">6.0</text>
<text x="38.90" y="1149.90" font-size="10.6" text-anchor="end" font-weight="normal" fill="#262626">8.0</text>
<text x="48.20" y="1295.40" font-size="10.6" text-anchor="middle" font-weight="normal" fill="#262626">0</text>
<text x="79.24" y="1295.40" font-size="10.6" text-anchor="middle" font-weight="normal" fill="#262626">7</text>
<text x="110.28" y="1295.40" font-size="10.6" text-anchor="middle" font-weight="normal" fill="#262626">14</text>
<text x="141.31" y="1295.40" font-size="10.6" text-anchor="middle" font-weight="normal" fill="#262626">21</text>
<text x="172.35" y="1295.40" font-size="10.6" text-anchor="middle" font-weight="normal" fill="#262626">28</text>
<text x="203.39" y="1295.40" font-size="10.6" text-anchor="middle" font-weight="normal" fill="#262626">35</text>
<text x="234.43" y="1295.40" font-size="10.6" text-anchor="middle" font-weight="normal" fill="#262626">42</text>
<text x="265.46" y="1295.40" font-size="10.6" text-anchor="middle" font-weight="normal" fill="#262626">49</text>
<text x="296.50" y="1295.40" font-size="10.6" text-anchor="middle" font-weight="normal" fill="#262626">56</text>
<text x="154.40" y="1312.90" font-size="11" text-anchor="start" font-weight="normal" fill="#1a1a1a" textLength="41.6" lengthAdjust="spacingAndGlyphs" stroke="#1a1a1a" stroke-width="0.35">Time (d)</text>
<text transform="translate(15.70 1211.15) rotate(-90)" x="0" y="0" text-anchor="middle" font-size="10.5" fill="#222" stroke="#222" stroke-width="0.2" textLength="49" lengthAdjust="spacingAndGlyphs">ln[A]<tspan font-size="6.2" dy="2.6">0</tspan><tspan dy="-2.6">/[A]</tspan><tspan font-size="6.2" dy="2.6">t</tspan></text>
<text x="234.60" y="1261.10" font-size="13.7" text-anchor="start" font-weight="normal" fill="#595959" textLength="69.4" lengthAdjust="spacingAndGlyphs">Glyphosate</text>
<rect x="42.20" y="1270.80" width="12.00" height="12.00" fill="#F27F2B"/>
<rect x="73.24" y="1225.83" width="12.00" height="12.00" fill="#F27F2B"/>
<rect x="104.28" y="1198.09" width="12.00" height="12.00" fill="#F27F2B"/>
<rect x="135.31" y="1181.84" width="12.00" height="12.00" fill="#F27F2B"/>
<rect x="166.35" y="1159.69" width="12.00" height="12.00" fill="#F27F2B"/>
<line x1="48.20" y1="1266.70" x2="172.35" y2="1160.18" stroke="#2b2b2b" stroke-width="1.0"/>
<text x="54.40" y="1163.70" font-size="10.3" text-anchor="start" font-weight="normal" fill="#262626" textLength="96.6" lengthAdjust="spacingAndGlyphs">y = 0,2318x + 0,6152</text>
<text x="80.00" y="1178.20" font-size="10.3" text-anchor="start" font-weight="normal" fill="#262626" textLength="46.0" lengthAdjust="spacingAndGlyphs">R² = 0,962</text>
<path d="M440.40 795.00V926.50H693.00" fill="none" stroke="#868686" stroke-width="1"/>
<path d="M436.40 926.50H440.40 M436.40 893.62H440.40 M436.40 860.75H440.40 M436.40 827.88H440.40 M436.40 795.00H440.40 M440.40 926.50V930.50 M471.41 926.50V930.50 M502.42 926.50V930.50 M533.44 926.50V930.50 M564.45 926.50V930.50 M595.46 926.50V930.50 M626.47 926.50V930.50 M657.49 926.50V930.50 M688.50 926.50V930.50" fill="none" stroke="#868686" stroke-width="1"/>
<text x="431.10" y="932.00" font-size="10.6" text-anchor="end" font-weight="normal" fill="#262626">0.0</text>
<text x="431.10" y="898.88" font-size="10.6" text-anchor="end" font-weight="normal" fill="#262626">0.5</text>
<text x="431.10" y="865.75" font-size="10.6" text-anchor="end" font-weight="normal" fill="#262626">1.0</text>
<text x="431.10" y="832.62" font-size="10.6" text-anchor="end" font-weight="normal" fill="#262626">1.5</text>
<text x="431.10" y="799.50" font-size="10.6" text-anchor="end" font-weight="normal" fill="#262626">2.0</text>
<text x="440.40" y="945.10" font-size="10.6" text-anchor="middle" font-weight="normal" fill="#262626">0</text>
<text x="471.41" y="945.10" font-size="10.6" text-anchor="middle" font-weight="normal" fill="#262626">7</text>
<text x="502.42" y="945.10" font-size="10.6" text-anchor="middle" font-weight="normal" fill="#262626">14</text>
<text x="533.44" y="945.10" font-size="10.6" text-anchor="middle" font-weight="normal" fill="#262626">21</text>
<text x="564.45" y="945.10" font-size="10.6" text-anchor="middle" font-weight="normal" fill="#262626">28</text>
<text x="595.46" y="945.10" font-size="10.6" text-anchor="middle" font-weight="normal" fill="#262626">35</text>
<text x="626.47" y="945.10" font-size="10.6" text-anchor="middle" font-weight="normal" fill="#262626">42</text>
<text x="657.49" y="945.10" font-size="10.6" text-anchor="middle" font-weight="normal" fill="#262626">49</text>
<text x="688.50" y="945.10" font-size="10.6" text-anchor="middle" font-weight="normal" fill="#262626">56</text>
<text x="547.00" y="962.60" font-size="11" text-anchor="start" font-weight="normal" fill="#1a1a1a" textLength="41.6" lengthAdjust="spacingAndGlyphs" stroke="#1a1a1a" stroke-width="0.35">Time (d)</text>
<text transform="translate(407.90 860.75) rotate(-90)" x="0" y="0" text-anchor="middle" font-size="10.5" fill="#222" stroke="#222" stroke-width="0.2" textLength="49" lengthAdjust="spacingAndGlyphs">ln[A]<tspan font-size="6.2" dy="2.6">0</tspan><tspan dy="-2.6">/[A]</tspan><tspan font-size="6.2" dy="2.6">t</tspan></text>
<text x="616.60" y="814.30" font-size="13.7" text-anchor="start" font-weight="normal" fill="#595959" textLength="78.2" lengthAdjust="spacingAndGlyphs">Imidacloprid</text>
<path d="M595.46 921.10L600.86 926.50L595.46 931.90L590.06 926.50Z" fill="#3F6FCF"/>
<path d="M626.47 900.72L631.87 906.12L626.47 911.52L621.07 906.12Z" fill="#3F6FCF"/>
<path d="M657.49 898.61L662.89 904.01L657.49 909.41L652.09 904.01Z" fill="#3F6FCF"/>
<path d="M688.50 888.23L693.90 893.62L688.50 899.02L683.10 893.62Z" fill="#3F6FCF"/>
<rect x="434.40" y="919.84" width="12.00" height="12.00" fill="#F27F2B"/>
<rect x="465.41" y="890.91" width="12.00" height="12.00" fill="#F27F2B"/>
<rect x="496.42" y="870.07" width="12.00" height="12.00" fill="#F27F2B"/>
<rect x="527.44" y="835.88" width="12.00" height="12.00" fill="#F27F2B"/>
<rect x="558.45" y="803.20" width="12.00" height="12.00" fill="#F27F2B"/>
<line x1="442.08" y1="926.50" x2="564.45" y2="812.82" stroke="#2b2b2b" stroke-width="1.0"/>
<line x1="595.46" y1="922.52" x2="688.50" y2="892.42" stroke="#2b2b2b" stroke-width="1.0"/>
<text x="444.40" y="814.90" font-size="10.3" text-anchor="start" font-weight="normal" fill="#262626" textLength="93.6" lengthAdjust="spacingAndGlyphs">y =0,0626x - 0,0238</text>
<text x="464.90" y="829.90" font-size="10.3" text-anchor="start" font-weight="normal" fill="#262626" textLength="52.4" lengthAdjust="spacingAndGlyphs">R² = 0,9938</text>
<text x="613.10" y="869.40" font-size="10.3" text-anchor="start" font-weight="normal" fill="#262626" textLength="94.9" lengthAdjust="spacingAndGlyphs">y = 0,0218x - 0,7025</text>
<text x="634.30" y="883.70" font-size="10.3" text-anchor="start" font-weight="normal" fill="#262626" textLength="51.7" lengthAdjust="spacingAndGlyphs">R² = 0,8858</text>
<path d="M440.90 968.70V1100.20H692.50" fill="none" stroke="#868686" stroke-width="1"/>
<path d="M436.90 1100.20H440.90 M436.90 1078.28H440.90 M436.90 1056.37H440.90 M436.90 1034.45H440.90 M436.90 1012.53H440.90 M436.90 990.62H440.90 M436.90 968.70H440.90 M440.90 1100.20V1104.20 M471.85 1100.20V1104.20 M502.80 1100.20V1104.20 M533.75 1100.20V1104.20 M564.70 1100.20V1104.20 M595.65 1100.20V1104.20 M626.60 1100.20V1104.20 M657.55 1100.20V1104.20 M688.50 1100.20V1104.20" fill="none" stroke="#868686" stroke-width="1"/>
<text x="431.60" y="1105.90" font-size="10.6" text-anchor="end" font-weight="normal" fill="#262626">0.0</text>
<text x="431.60" y="1083.40" font-size="10.6" text-anchor="end" font-weight="normal" fill="#262626">0.5</text>
<text x="431.60" y="1060.90" font-size="10.6" text-anchor="end" font-weight="normal" fill="#262626">1.0</text>
<text x="431.60" y="1038.40" font-size="10.6" text-anchor="end" font-weight="normal" fill="#262626">1.5</text>
<text x="431.60" y="1015.90" font-size="10.6" text-anchor="end" font-weight="normal" fill="#262626">2.0</text>
<text x="431.60" y="993.40" font-size="10.6" text-anchor="end" font-weight="normal" fill="#262626">2.5</text>
<text x="431.60" y="970.90" font-size="10.6" text-anchor="end" font-weight="normal" fill="#262626">3.0</text>
<text x="440.90" y="1118.80" font-size="10.6" text-anchor="middle" font-weight="normal" fill="#262626">0</text>
<text x="471.85" y="1118.80" font-size="10.6" text-anchor="middle" font-weight="normal" fill="#262626">7</text>
<text x="502.80" y="1118.80" font-size="10.6" text-anchor="middle" font-weight="normal" fill="#262626">14</text>
<text x="533.75" y="1118.80" font-size="10.6" text-anchor="middle" font-weight="normal" fill="#262626">21</text>
<text x="564.70" y="1118.80" font-size="10.6" text-anchor="middle" font-weight="normal" fill="#262626">28</text>
<text x="595.65" y="1118.80" font-size="10.6" text-anchor="middle" font-weight="normal" fill="#262626">35</text>
<text x="626.60" y="1118.80" font-size="10.6" text-anchor="middle" font-weight="normal" fill="#262626">42</text>
<text x="657.55" y="1118.80" font-size="10.6" text-anchor="middle" font-weight="normal" fill="#262626">49</text>
<text x="688.50" y="1118.80" font-size="10.6" text-anchor="middle" font-weight="normal" fill="#262626">56</text>
<text x="547.00" y="1136.30" font-size="11" text-anchor="start" font-weight="normal" fill="#1a1a1a" textLength="41.6" lengthAdjust="spacingAndGlyphs" stroke="#1a1a1a" stroke-width="0.35">Time (d)</text>
<text transform="translate(408.40 1034.45) rotate(-90)" x="0" y="0" text-anchor="middle" font-size="10.5" fill="#222" stroke="#222" stroke-width="0.2" textLength="58" lengthAdjust="spacingAndGlyphs">ln[A]<tspan font-size="6.2" dy="2.6">0</tspan><tspan dy="-2.6">/ln[A]</tspan><tspan font-size="6.2" dy="2.6">t</tspan></text>
<text x="594.20" y="999.30" font-size="13.7" text-anchor="start" font-weight="normal" fill="#595959" textLength="94.3" lengthAdjust="spacingAndGlyphs">Dimethomorph</text>
<path d="M595.65 1094.80L601.05 1100.20L595.65 1105.60L590.25 1100.20Z" fill="#3F6FCF"/>
<path d="M626.60 1076.83L632.00 1082.23L626.60 1087.63L621.20 1082.23Z" fill="#3F6FCF"/>
<path d="M657.55 1068.50L662.95 1073.90L657.55 1079.30L652.15 1073.90Z" fill="#3F6FCF"/>
<path d="M688.50 1054.69L693.90 1060.09L688.50 1065.49L683.10 1060.09Z" fill="#3F6FCF"/>
<rect x="434.90" y="1094.20" width="12.00" height="12.00" fill="#F27F2B"/>
<rect x="465.85" y="1069.65" width="12.00" height="12.00" fill="#F27F2B"/>
<rect x="496.80" y="1052.12" width="12.00" height="12.00" fill="#F27F2B"/>
<rect x="527.75" y="1015.74" width="12.00" height="12.00" fill="#F27F2B"/>
<rect x="558.70" y="990.32" width="12.00" height="12.00" fill="#F27F2B"/>
<line x1="443.88" y1="1100.20" x2="564.70" y2="998.03" stroke="#2b2b2b" stroke-width="1.0"/>
<line x1="595.65" y1="1098.24" x2="688.50" y2="1060.04" stroke="#2b2b2b" stroke-width="1.0"/>
<text x="450.40" y="996.70" font-size="10.3" text-anchor="start" font-weight="normal" fill="#262626" textLength="93.6" lengthAdjust="spacingAndGlyphs">y =0,0853x - 0,0575</text>
<text x="471.20" y="1009.20" font-size="10.3" text-anchor="start" font-weight="normal" fill="#262626" textLength="52.3" lengthAdjust="spacingAndGlyphs">R² = 0,9879</text>
<text x="577.70" y="1049.90" font-size="10.3" text-anchor="start" font-weight="normal" fill="#262626" textLength="94.8" lengthAdjust="spacingAndGlyphs">y =0,0415x - 1,4078</text>
<text x="600.00" y="1064.40" font-size="10.3" text-anchor="start" font-weight="normal" fill="#262626" textLength="52.0" lengthAdjust="spacingAndGlyphs">R² = 0,9786</text>
<path d="M440.90 1145.00V1276.80H692.50" fill="none" stroke="#868686" stroke-width="1"/>
<path d="M436.90 1276.80H440.90 M436.90 1243.85H440.90 M436.90 1210.90H440.90 M436.90 1177.95H440.90 M436.90 1145.00H440.90 M440.90 1276.80V1280.80 M471.85 1276.80V1280.80 M502.80 1276.80V1280.80 M533.75 1276.80V1280.80 M564.70 1276.80V1280.80 M595.65 1276.80V1280.80 M626.60 1276.80V1280.80 M657.55 1276.80V1280.80 M688.50 1276.80V1280.80" fill="none" stroke="#868686" stroke-width="1"/>
<text x="431.60" y="1279.40" font-size="10.6" text-anchor="end" font-weight="normal" fill="#262626">0.0</text>
<text x="431.60" y="1247.02" font-size="10.6" text-anchor="end" font-weight="normal" fill="#262626">2.0</text>
<text x="431.60" y="1214.65" font-size="10.6" text-anchor="end" font-weight="normal" fill="#262626">4.0</text>
<text x="431.60" y="1182.27" font-size="10.6" text-anchor="end" font-weight="normal" fill="#262626">6.0</text>
<text x="431.60" y="1149.90" font-size="10.6" text-anchor="end" font-weight="normal" fill="#262626">8.0</text>
<text x="440.90" y="1295.40" font-size="10.6" text-anchor="middle" font-weight="normal" fill="#262626">0</text>
<text x="471.85" y="1295.40" font-size="10.6" text-anchor="middle" font-weight="normal" fill="#262626">7</text>
<text x="502.80" y="1295.40" font-size="10.6" text-anchor="middle" font-weight="normal" fill="#262626">14</text>
<text x="533.75" y="1295.40" font-size="10.6" text-anchor="middle" font-weight="normal" fill="#262626">21</text>
<text x="564.70" y="1295.40" font-size="10.6" text-anchor="middle" font-weight="normal" fill="#262626">28</text>
<text x="595.65" y="1295.40" font-size="10.6" text-anchor="middle" font-weight="normal" fill="#262626">35</text>
<text x="626.60" y="1295.40" font-size="10.6" text-anchor="middle" font-weight="normal" fill="#262626">42</text>
<text x="657.55" y="1295.40" font-size="10.6" text-anchor="middle" font-weight="normal" fill="#262626">49</text>
<text x="688.50" y="1295.40" font-size="10.6" text-anchor="middle" font-weight="normal" fill="#262626">56</text>
<text x="547.00" y="1312.90" font-size="11" text-anchor="start" font-weight="normal" fill="#1a1a1a" textLength="41.6" lengthAdjust="spacingAndGlyphs" stroke="#1a1a1a" stroke-width="0.35">Time (d)</text>
<text transform="translate(408.40 1210.90) rotate(-90)" x="0" y="0" text-anchor="middle" font-size="10.5" fill="#222" stroke="#222" stroke-width="0.2" textLength="58" lengthAdjust="spacingAndGlyphs">ln[A]<tspan font-size="6.2" dy="2.6">0</tspan><tspan dy="-2.6">/ln[A]</tspan><tspan font-size="6.2" dy="2.6">t</tspan></text>
<text x="618.90" y="1261.80" font-size="13.7" text-anchor="start" font-weight="normal" fill="#595959" textLength="70.9" lengthAdjust="spacingAndGlyphs">Glyphosate</text>
<rect x="434.90" y="1270.80" width="12.00" height="12.00" fill="#F27F2B"/>
<rect x="465.85" y="1225.82" width="12.00" height="12.00" fill="#F27F2B"/>
<rect x="496.80" y="1197.65" width="12.00" height="12.00" fill="#F27F2B"/>
<rect x="527.75" y="1185.13" width="12.00" height="12.00" fill="#F27F2B"/>
<rect x="558.70" y="1159.10" width="12.00" height="12.00" fill="#F27F2B"/>
<line x1="440.90" y1="1266.66" x2="564.70" y2="1161.21" stroke="#2b2b2b" stroke-width="1.0"/>
<text x="448.00" y="1167.40" font-size="10.3" text-anchor="start" font-weight="normal" fill="#262626" textLength="98.0" lengthAdjust="spacingAndGlyphs">y =0,2286x +0,6152</text>
<text x="470.40" y="1181.10" font-size="10.3" text-anchor="start" font-weight="normal" fill="#262626" textLength="53.6" lengthAdjust="spacingAndGlyphs">R² = 0,9582</text>
<text x="290.00" y="15.00" font-size="18.4" text-anchor="start" font-weight="bold" fill="#0d0d0d" textLength="110.9" lengthAdjust="spacingAndGlyphs">FIRST ORDER</text>
<text x="137.30" y="38.60" font-size="18.4" text-anchor="start" font-weight="bold" fill="#0d0d0d" textLength="108.9" lengthAdjust="spacingAndGlyphs">Water phase</text>
<text x="489.60" y="41.60" font-size="18.4" text-anchor="start" font-weight="bold" fill="#0d0d0d" textLength="152.9" lengthAdjust="spacingAndGlyphs">Soil-water system</text>
<text x="249.40" y="776.60" font-size="18.4" text-anchor="start" font-weight="bold" fill="#0d0d0d" textLength="193.8" lengthAdjust="spacingAndGlyphs">HOCKEY-STICK MODEL</text>
<rect x="600.10" y="1175.20" width="11" height="11" fill="#F7963A"/>
<path d="M606.4 1206.1999999999998L613.3 1213.1L606.4 1220.0L599.5 1213.1Z" fill="#3F6FCF"/>
<text x="641.30" y="1186.90" font-size="10.3" text-anchor="start" font-weight="normal" fill="#262626" textLength="36.0" lengthAdjust="spacingAndGlyphs">t ≤ 28 d</text>
<text x="641.30" y="1214.90" font-size="10.3" text-anchor="start" font-weight="normal" fill="#262626" textLength="36.0" lengthAdjust="spacingAndGlyphs">t &gt; 28 d</text>
</svg>
</body></html>
